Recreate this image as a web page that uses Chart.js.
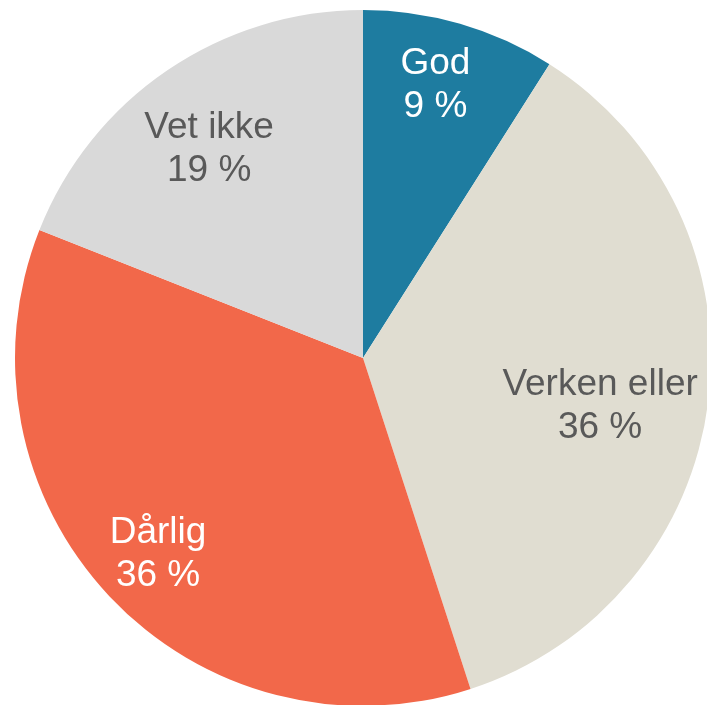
<!DOCTYPE html>
<html>
<head>
<meta charset="utf-8">
<script src="https://cdn.jsdelivr.net/npm/chart.js@4/dist/chart.umd.min.js"></script>
<style>
  html, body { margin: 0; padding: 0; background: #ffffff; overflow: hidden; }
  #wrap { position: absolute; left: 0; top: 0; width: 726px; height: 716px; }
</style>
</head>
<body>
<div id="wrap"><canvas id="pie" width="726" height="716"></canvas></div>
<script>
// Answer categories and their shares (percent)
const categories = ['God', 'Verken eller', 'Dårlig', 'Vet ikke'];
const shares = [9, 36, 36, 19];

const sliceColors = ['#1E7CA0', '#E0DDD1', '#F2684A', '#D9D9D9'];
const labelColors = ['#FFFFFF', '#595959', '#FFFFFF', '#595959'];

// Where each two-line label sits inside its slice: fraction of the radius
// and a small angular nudge (degrees) from the slice's middle angle.
const labelPlacement = [
  { r: 0.81, nudge: -1.3 },
  { r: 0.695, nudge: 4.2 },
  { r: 0.816, nudge: -0.6 },
  { r: 0.745, nudge: -2.2 }
];

const sliceLabels = {
  id: 'sliceLabels',
  afterDatasetsDraw(chart) {
    const ctx = chart.ctx;
    const meta = chart.getDatasetMeta(0);
    const ds = chart.data.datasets[0];
    ctx.save();
    ctx.font = '37px "Liberation Sans", Arial, sans-serif';
    ctx.textAlign = 'center';
    ctx.textBaseline = 'middle';
    meta.data.forEach((arc, i) => {
      const p = arc.getProps(['x', 'y', 'startAngle', 'endAngle', 'outerRadius'], true);
      const mid = (p.startAngle + p.endAngle) / 2 + labelPlacement[i].nudge * Math.PI / 180;
      const rr = p.outerRadius * labelPlacement[i].r;
      const cx = p.x + Math.cos(mid) * rr;
      const cy = p.y + Math.sin(mid) * rr;
      ctx.fillStyle = labelColors[i];
      ctx.fillText(chart.data.labels[i], cx, cy - 21.5);
      ctx.fillText(ds.data[i] + ' %', cx, cy + 21.5);
    });
    ctx.restore();
  }
};

new Chart(document.getElementById('pie'), {
  type: 'pie',
  data: {
    labels: categories,
    datasets: [{
      data: shares,
      backgroundColor: sliceColors,
      borderWidth: 0,
      hoverOffset: 0
    }]
  },
  options: {
    responsive: false,
    animation: false,
    devicePixelRatio: 1,
    layout: { padding: { left: 15, top: 10, right: 15, bottom: 10 } },
    plugins: {
      legend: { display: false },
      tooltip: { enabled: false }
    }
  },
  plugins: [sliceLabels]
});
</script>
</body>
</html>
